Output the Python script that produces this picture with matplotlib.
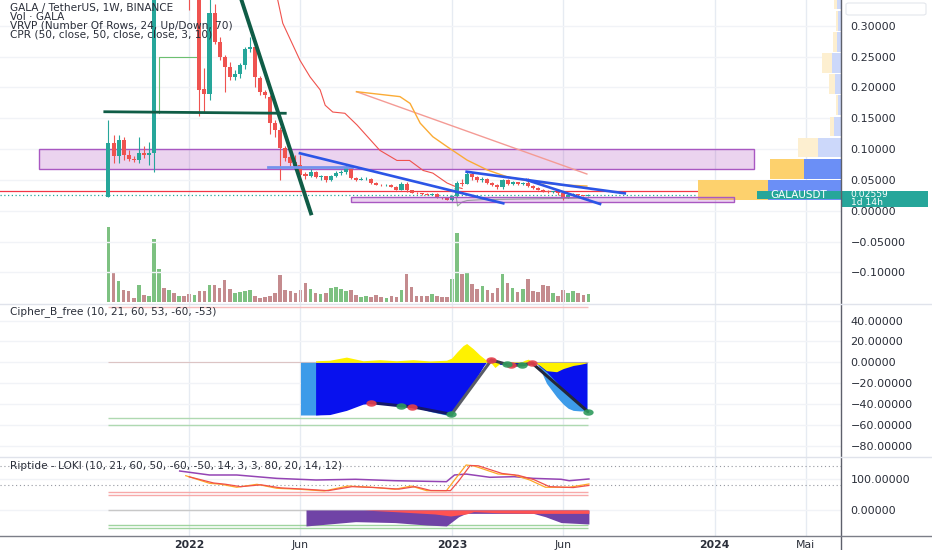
import datetime as dt
import matplotlib

matplotlib.use("Agg")
import matplotlib.pyplot as plt
import matplotlib.dates as mdates
import matplotlib.transforms as mtrans
from matplotlib.lines import Line2D
from matplotlib.patches import Rectangle, FancyBboxPatch
import numpy as np

plt.rcParams["font.family"] = ["DejaVu Sans"]

# ---------------- data ----------------
first_bar = dt.date(2021, 9, 13)  # weekly candles, bar 1

opens = [0.022, 0.109, 0.088, 0.115, 0.090, 0.084, 0.082, 0.094, 0.090, 0.093,
         0.45, 0.62, 0.50, 0.52, 0.45, 0.50, 0.42, 0.36, 0.37, 0.198,
         0.190, 0.320, 0.274, 0.250, 0.233, 0.217, 0.221, 0.236, 0.263, 0.266,
         0.215, 0.193, 0.185, 0.142, 0.131, 0.101, 0.087, 0.079, 0.074, 0.060,
         0.057, 0.063, 0.055, 0.056, 0.050, 0.056, 0.061, 0.062, 0.071, 0.053,
         0.050, 0.051, 0.052, 0.045, 0.042, 0.041, 0.042, 0.039, 0.034, 0.044,
         0.033, 0.029, 0.028, 0.027, 0.026, 0.027, 0.022, 0.021, 0.0175, 0.024,
         0.045, 0.044, 0.060, 0.054, 0.049, 0.052, 0.045, 0.042, 0.038, 0.050,
         0.044, 0.046, 0.043, 0.045, 0.040, 0.037, 0.034, 0.032, 0.030, 0.031,
         0.028, 0.0225, 0.025, 0.0265, 0.025, 0.0245]
highs = [0.147, 0.123, 0.123, 0.120, 0.098, 0.089, 0.119, 0.105, 0.112, 0.62,
         0.84, 0.66, 0.60, 0.56, 0.55, 0.52, 0.42, 0.40, 0.37, 0.231,
         0.345, 0.335, 0.282, 0.253, 0.241, 0.228, 0.240, 0.266, 0.282, 0.268,
         0.218, 0.196, 0.188, 0.147, 0.135, 0.105, 0.095, 0.090, 0.090, 0.063,
         0.067, 0.064, 0.058, 0.057, 0.058, 0.064, 0.066, 0.074, 0.072, 0.055,
         0.054, 0.055, 0.053, 0.046, 0.044, 0.043, 0.043, 0.040, 0.046, 0.046,
         0.034, 0.030, 0.029, 0.028, 0.028, 0.028, 0.023, 0.022, 0.026, 0.048,
         0.052, 0.064, 0.063, 0.056, 0.054, 0.053, 0.047, 0.044, 0.052, 0.052,
         0.048, 0.047, 0.046, 0.053, 0.042, 0.038, 0.036, 0.034, 0.032, 0.032,
         0.029, 0.027, 0.028, 0.027, 0.026, 0.027]
lows = [0.022, 0.077, 0.077, 0.082, 0.080, 0.079, 0.077, 0.085, 0.074, 0.063,
        0.40, 0.42, 0.36, 0.40, 0.40, 0.38, 0.325, 0.345, 0.154, 0.160,
        0.179, 0.270, 0.245, 0.193, 0.212, 0.212, 0.215, 0.230, 0.258, 0.201,
        0.187, 0.182, 0.125, 0.120, 0.050, 0.080, 0.072, 0.068, 0.055, 0.052,
        0.055, 0.053, 0.050, 0.047, 0.048, 0.054, 0.058, 0.060, 0.051, 0.048,
        0.049, 0.049, 0.044, 0.041, 0.040, 0.040, 0.038, 0.033, 0.033, 0.031,
        0.028, 0.027, 0.026, 0.025, 0.025, 0.021, 0.019, 0.017, 0.0165, 0.023,
        0.040, 0.043, 0.050, 0.046, 0.047, 0.043, 0.040, 0.036, 0.036, 0.042,
        0.042, 0.041, 0.042, 0.038, 0.036, 0.033, 0.031, 0.029, 0.028, 0.026,
        0.018, 0.021, 0.024, 0.024, 0.024, 0.024]
closes = [0.109, 0.088, 0.115, 0.090, 0.084, 0.082, 0.094, 0.090, 0.093, 0.45,
          0.62, 0.50, 0.52, 0.45, 0.50, 0.42, 0.36, 0.37, 0.195, 0.190,
          0.320, 0.274, 0.250, 0.233, 0.217, 0.221, 0.236, 0.263, 0.266, 0.217,
          0.193, 0.188, 0.142, 0.131, 0.101, 0.085, 0.077, 0.072, 0.058, 0.057,
          0.063, 0.055, 0.056, 0.050, 0.056, 0.061, 0.063, 0.071, 0.053, 0.050,
          0.052, 0.052, 0.045, 0.042, 0.041, 0.042, 0.039, 0.034, 0.044, 0.033,
          0.029, 0.028, 0.027, 0.026, 0.027, 0.022, 0.021, 0.0175, 0.024, 0.045,
          0.044, 0.060, 0.054, 0.049, 0.052, 0.045, 0.042, 0.038, 0.050, 0.044,
          0.046, 0.043, 0.045, 0.040, 0.037, 0.034, 0.032, 0.030, 0.031, 0.028,
          0.0225, 0.025, 0.0265, 0.025, 0.0245, 0.02559]
volumes = [225, 90, 63, 37, 33, 13, 50, 20, 18, 188, 98, 42, 37, 26, 19, 19, 23, 20, 33, 34,
           51, 52, 42, 65, 38, 27, 29, 32, 36, 18, 13, 16, 19, 27, 81, 37, 32, 26, 37, 57,
           38, 26, 24, 28, 43, 44, 39, 33, 35, 21, 14, 18, 15, 21, 16, 11, 18, 16, 35, 83,
           46, 18, 18, 19, 24, 17, 16, 14, 68, 206, 83, 89, 54, 39, 47, 37, 27, 43, 84, 57,
           41, 31, 38, 68, 33, 30, 50, 48, 26, 19, 37, 26, 33, 28, 22, 24]
last_price = 0.02559

# volume profile, 24 rows from the lowest low to the highest high
vp_low, vp_high = 0.0165, 0.84
vp_up = [73, 37, 23, 6.7, 2.7, 5.3, 8.3, 3.7, 2.7, 3.3, 4, 3, 5, 6, 4, 3, 2.5, 2, 1.5, 1.2, 1, 0.8, 0.6, 0.4]
vp_down = [70, 34, 20, 4, 2.3, 6.3, 10, 4, 2.3, 3.3, 4, 3, 5, 5, 4, 3, 2.5, 2, 1.5, 1.2, 1, 0.8, 0.6, 0.4]
vp_value_area_rows = 2

# drawings on the price pane (bar index, price)
zone_big_idx, zone_big_px = (-12.76, 128.77), (0.0671, 0.0996)
zone_small_idx, zone_small_px = (49.0, 124.87), (0.0149, 0.0217)
support_line = 0.0320
green_h_idx, green_h_px = (0.0, 36.27), (0.1605, 0.158)
green_d_idx, green_d_px = (26.2, 41.2), (0.370, -0.0073)
lblue_idx, lblue_px = (32.6, 49.2), (0.0710, 0.0710)
blue_lines = [((38.9, 79.15), (0.0931, 0.012)),
              ((71.9, 103.2), (0.0632, 0.0282)),
              ((83.8, 98.3), (0.0498, 0.0109))]
ma_idx = [34.0, 34.5, 35.5, 38.9, 40.9, 42.9, 43.9, 45.4, 47.8, 50.2, 54.7, 58.1, 60.6, 63.3, 65.2, 68.0, 70.0, 71.0]
ma_px = [0.361, 0.342, 0.304, 0.244, 0.217, 0.196, 0.171, 0.160, 0.158, 0.139, 0.098, 0.0815, 0.0815,
         0.0652, 0.061, 0.045, 0.038, 0.036]
orange_idx = [50.1, 58.7, 60.7, 62.7, 65.2, 68.0, 72.0, 76.0, 79.9, 85.0, 90.4, 95.7]
orange_px = [0.193, 0.185, 0.174, 0.142, 0.120, 0.104, 0.082, 0.066, 0.055, 0.047, 0.042, 0.040]
salmon_idx, salmon_px = (50.1, 95.7), (0.193, 0.0595)
cpr_top_idx, cpr_top_px = [11.0, 11.0, 18.3], [0.158, 0.249, 0.249]
cpr_low_idx = [69.6, 70.1, 71.0, 72.0, 75.0, 96.0]
cpr_low_px = [0.036, 0.0076, 0.014, 0.0165, 0.018, 0.0205]

# Cipher B
wt1_idx = [39.0, 42.0, 44.8, 48.1, 51.4, 54.7, 58.0, 61.3, 64.6, 67.9, 68.9, 71.2, 73.2, 74.5, 75.8,
           76.8, 78.5, 79.8, 81.1, 82.8, 84.1, 85.7, 86.4, 87.7, 89.7, 91.0, 92.0, 93.0, 94.3, 95.7]
wt1_val = [-50.4, -50.4, -49, -45, -39, -38, -40, -42, -47, -50.5, -51.5, -28, -12, -3, 2,
           3, 0, -1, 0, -1.5, 0.5, 0, -6, -20, -33, -40, -44, -46, -46.5, -46.5]
wt2_idx = [42.0, 44.8, 48.1, 51.4, 54.7, 58.0, 61.3, 64.6, 67.9, 68.9, 71.2, 73.2, 74.5, 75.2, 75.8,
           76.8, 77.5, 78.5, 79.8, 81.1, 82.8, 84.1, 84.9, 85.7, 87.7, 89.7, 91.0, 93.0, 94.3, 95.7]
wt2_val = [-50.4, -50, -46, -40, -38.6, -40.8, -42.4, -45, -48.8, -50, -33, -19.5, -9.6, -4, 0,
           2, 0, -2, -2, -1, -2.5, 0, -0.9, -1, -9, -19, -26, -36, -41, -47]
mfi_idx = [42.0, 44.8, 47.0, 48.1, 50.0, 51.4, 54.7, 58.0, 61.3, 64.6, 67.9, 68.9, 70.0, 71.2, 71.9,
           73.2, 74.5, 75.8, 76.8, 77.5, 78.5, 79.8, 81.1, 82.8, 83.4, 84.1, 84.9, 85.7, 86.4, 87.7,
           89.7, 91.0, 93.0, 94.3, 95.7]
mfi_val = [1.5, 2, 4, 5, 3, 1.5, 2.5, 1.5, 2.5, 1.3, 2, 4, 10, 16, 18,
           13, 7, 2, -1, -5, -1, 0, 0.5, 0.5, 2, 3, 0.5, -1, -3, -8,
           -9, -6, -3, -2, -0.5]
dot_red_idx, dot_red_val = [52.9, 61.0, 76.8, 80.7, 84.9], [-38.6, -42.4, 2.2, -3.0, -0.9]
dot_green_idx, dot_green_val = [59.0, 68.9, 79.8, 82.8, 95.9], [-41.7, -49.8, -1.9, -2.5, -47.2]
div_segments = [([52.9, 59.0, 61.0, 68.9], [-38.6, -41.7, -42.4, -49.8], "#14186a"),
                ([68.9, 76.8], [-49.8, 2.2], "#595c66"),
                ([76.8, 79.8, 80.7, 82.8, 84.9], [2.2, -1.9, -3.0, -2.5, -0.9], "#3a3d4a"),
                ([84.9, 95.9], [-0.9, -47.2], "#23273a")]
cipher_ob, cipher_os = [53], [-53, -60]

# Riptide
rip_purple_idx = [15.1, 21, 26.4, 34.3, 42.1, 49.9, 57.7, 67.9, 69.5, 71.8, 76.5, 81.3, 85.1, 90.6, 92.2, 96.1]
rip_purple_val = [127, 114, 114, 103, 97.7, 100, 95.4, 92.2, 114, 117, 106.5, 108.5, 103, 100, 95.4, 101]
rip_orange_idx = [16.3, 21, 23.3, 26.4, 30.4, 34.3, 38.9, 43.7, 48.4, 53.1, 57.7, 60.9, 64, 67.9, 69.5,
                  71.8, 73.4, 78.1, 81.3, 84.4, 87.5, 92.2, 96.1]
rip_orange_val = [111.7, 87, 83.7, 74, 83.7, 70.7, 67.4, 62, 78, 74, 67.4, 78, 62.9, 62.9, 97.7,
                  146.6, 143.3, 117.3, 114, 97.7, 74, 74, 84.7]
rip_red_idx = [17, 21.8, 24.1, 27.2, 31.2, 35.1, 39.7, 44.5, 49.2, 53.9, 58.5, 61.7, 64.8, 68.7, 70.3,
               72.6, 74.2, 78.9, 82.1, 85.2, 88.3, 93, 96.1]
rip_red_val = [108, 88, 84, 76, 82, 72, 68, 63, 76, 73, 68, 76, 63.5, 63, 94,
               145, 144, 119, 113, 99, 76, 73, 80]
rip_area_purple_idx = [40.1, 49.9, 57.7, 64.0, 67.9, 70.3, 71.8, 85.1, 87.5, 90.6, 96.1]
rip_area_purple_val = [-52, -38, -41, -49, -52, -22, -11, -11, -22, -41, -45.6]
rip_area_red_idx = [51.5, 57.7, 65.6, 68.7, 71.8, 73.3, 78.0, 85.1, 96.1]
rip_area_red_val = [0, -5.4, -13, -19.5, -13, -5.4, -9, -11, -11]
rip_ob, rip_os, rip_dotted = [60, 50], [-50, -60], [144, 82]

grid_dates = [dt.date(2022, 1, 3), dt.date(2022, 6, 6), dt.date(2023, 1, 2),
              dt.date(2023, 6, 5), dt.date(2024, 1, 1), dt.date(2024, 5, 6)]
grid_labels = ["2022", "Jun", "2023", "Jun", "2024", "Mai"]

# ---------------- style ----------------
UP, DOWN = "#26a69a", "#ef5350"
TXT = "#2a2e39"
GRID_V, GRID_H = "#e6ebf2", "#f1f3f7"
W, H = 932, 550
AX_R = 840.7  # right edge of the panes in px
PX_PER_DAY = 0.7217


def bar_x(idx):
    return mdates.date2num(first_bar) + 7 * (np.asarray(idx, dtype=float) - 1)


d0 = mdates.date2num(dt.date(2022, 1, 3))
xmin, xmax = d0 - 189.3 / PX_PER_DAY, d0 + (AX_R - 189.3) / PX_PER_DAY
days_per_px = (xmax - xmin) / AX_R

fig = plt.figure(figsize=(W / 100, H / 100), dpi=100)
fig.patch.set_facecolor("white")


def pane(top, bottom, **kw):
    return fig.add_axes([0, 1 - bottom / H, AX_R / W, (bottom - top) / H], **kw)


ax_v = pane(0, 304)
ax_p = pane(0, 304, sharex=ax_v)
ax_c = pane(304, 457, sharex=ax_v)
ax_r = pane(457, 536, sharex=ax_v)
ax_v.set_zorder(0)
ax_p.set_zorder(1)
ax_p.patch.set_alpha(0)


def fmt(v):
    return f"{v:.5f}".replace("-", "\u2212")


for ax, yl, ticks in ((ax_p, (-0.1513, 0.3417), np.arange(-0.10, 0.301, 0.05)),
                      (ax_c, (-90.6, 55.8), [40, 20, 0, -20, -40, -60, -80]),
                      (ax_r, (-84.7, 172.6), [100, 0])):
    ax.set_xlim(xmin, xmax)
    ax.set_ylim(*yl)
    ax.set_xticks(mdates.date2num(grid_dates))
    ax.set_yticks(ticks)
    ax.set_yticklabels([fmt(t if abs(t) > 1e-9 else 0.0) for t in ticks])
    ax.grid(axis="x", color=GRID_V, lw=1)
    ax.grid(axis="y", color=GRID_H, lw=1)
    ax.set_axisbelow(True)
    ax.yaxis.tick_right()
    ax.tick_params(axis="y", length=0, pad=7, labelsize=8, labelcolor=TXT)
    ax.tick_params(axis="x", length=0, labelbottom=False)
    for s in ax.spines.values():
        s.set_visible(False)

ax_v.set_ylim(-6, 906)
ax_v.axis("off")

# ---------------- price pane ----------------
o, h, l, c = map(np.array, (opens, highs, lows, closes))
xb = bar_x(np.arange(1, len(c) + 1))
col = np.where(c >= o, UP, DOWN)

ax_v.bar(xb, volumes, width=5.0, color=np.where(c >= o, "#7dc181", "#c48b8e"), lw=0)

ax_p.add_patch(Rectangle((bar_x(zone_big_idx[0]), zone_big_px[0]),
                         bar_x(zone_big_idx[1]) - bar_x(zone_big_idx[0]), zone_big_px[1] - zone_big_px[0],
                         facecolor=(156 / 255, 39 / 255, 176 / 255, 0.2), edgecolor="#a958c2", lw=1, zorder=1))
ax_p.axhline(support_line, color="#f23645", lw=0.9, zorder=2)
ax_p.axhline(last_price, color=UP, lw=0.9, ls=(0, (1, 2)), zorder=2)

ax_p.plot(bar_x(ma_idx), ma_px, color="#f0524d", lw=0.8, zorder=2)
ax_p.plot(bar_x(salmon_idx), salmon_px, color="#f49b95", lw=1.0, zorder=2)
ax_p.plot(bar_x(orange_idx), orange_px, color="#fbab35", lw=1.0, zorder=2)
ax_p.plot(bar_x(cpr_top_idx), cpr_top_px, color="#6cc070", lw=0.8, zorder=2)
ax_p.plot(bar_x(cpr_low_idx), cpr_low_px, color="#98b99c", lw=0.8, zorder=2)

ax_p.vlines(xb, l, h, colors=col, lw=0.8, zorder=3)
ax_p.bar(xb, np.maximum(np.abs(c - o), 0.0012), bottom=np.minimum(o, c), width=5.6,
         color=col, lw=0, zorder=3)

# volume profile anchored on the right edge
row_h = (vp_high - vp_low) / len(vp_up)
row_c = vp_low + row_h * (np.arange(len(vp_up)) + 0.5)
w_up = np.array(vp_up) * days_per_px
w_dn = np.array(vp_down) * days_per_px
in_va = np.arange(len(vp_up)) < vp_value_area_rows
ax_p.barh(row_c, w_up, left=xmax - w_up, height=row_h * 0.93,
          color=np.where(in_va, "#6b8ff6", "#ccd8fa"), lw=0, zorder=2)
ax_p.barh(row_c, w_dn, left=xmax - w_up - w_dn, height=row_h * 0.93,
          color=np.where(in_va, "#fdd16d", "#fdefd0"), lw=0, zorder=2)

ax_p.add_patch(Rectangle((bar_x(zone_small_idx[0]), zone_small_px[0]),
                         bar_x(zone_small_idx[1]) - bar_x(zone_small_idx[0]),
                         zone_small_px[1] - zone_small_px[0],
                         facecolor=(156 / 255, 39 / 255, 176 / 255, 0.2), edgecolor="#a958c2", lw=1, zorder=4))

ax_p.plot(bar_x(green_h_idx), green_h_px, color="#0f5c46", lw=2.0, zorder=4, solid_capstyle="butt")
ax_p.plot(bar_x(green_d_idx), green_d_px, color="#0f5c46", lw=2.8, zorder=4, solid_capstyle="butt")
ax_p.plot(bar_x(lblue_idx), lblue_px, color="#7393ec", lw=2.0, zorder=4)
for bi, bp in blue_lines:
    ax_p.plot(bar_x(bi), bp, color="#2b55e6", lw=1.9, zorder=4)

# last price labels
bt = mtrans.blended_transform_factory(ax_p.transAxes, ax_p.transData)
ax_p.add_patch(Rectangle((756.7 / AX_R, 0.0185), 1 - 756.7 / AX_R, 0.0139, transform=bt,
                         facecolor=UP, lw=0, zorder=6, clip_on=False))
ax_p.text((756.7 + AX_R) / 2 / AX_R, 0.0255, "GALAUSDT", transform=bt, ha="center", va="center",
          color="white", fontsize=7.5, zorder=7)
ax_p.add_patch(Rectangle((1.0, 0.0062), 928 / AX_R - 1, 0.0262, transform=bt,
                         facecolor=UP, lw=0, zorder=6, clip_on=False))
ax_p.text(850 / AX_R, 0.0265, f"{last_price:.5f}", transform=bt, ha="left", va="center",
          color="white", fontsize=6.6, zorder=7, clip_on=False)
ax_p.text(851 / AX_R, 0.0128, "1d 14h", transform=bt, ha="left", va="center",
          color="white", fontsize=6.6, zorder=7, clip_on=False)

# ---------------- Cipher B pane ----------------
ax_c.hlines(cipher_ob, bar_x(1), bar_x(96), colors="#f6bcbc", lw=1)
ax_c.hlines(cipher_os, bar_x(1), bar_x(96), colors="#afd9b1", lw=1)
ax_c.hlines([0], bar_x(1), bar_x(96), colors="#dcc4c4", lw=0.8)
ax_c.fill_between(bar_x(wt1_idx), 0, wt1_val, color="#3d9be9", lw=0, zorder=2)
ax_c.fill_between(bar_x(wt2_idx), 0, wt2_val, color="#0811ee", lw=0, zorder=3)
ax_c.fill_between(bar_x(mfi_idx), 0, mfi_val, color="#fff200", lw=0, zorder=4)
for si, sv, sc in div_segments:
    ax_c.plot(bar_x(si), sv, color=sc, lw=2.2, zorder=5, solid_capstyle="round")
t = np.linspace(0, 2 * np.pi, 40)
ellipse = np.column_stack([1.6 * np.cos(t), np.sin(t)])
ax_c.scatter(bar_x(dot_red_idx), dot_red_val, marker=ellipse, s=55, color="#e5404c", alpha=0.9, lw=0, zorder=6)
ax_c.scatter(bar_x(dot_green_idx), dot_green_val, marker=ellipse, s=55, color="#2e9a5c", alpha=0.9, lw=0, zorder=6)

# ---------------- Riptide pane ----------------
for v in rip_dotted:
    ax_r.axhline(v, color="#9598a1", lw=0.8, ls=(0, (1, 2.5)))
ax_r.hlines(rip_ob, bar_x(1), bar_x(96), colors="#f7a9a9", lw=1)
ax_r.hlines(rip_os, bar_x(1), bar_x(96), colors="#9fd49f", lw=1)
ax_r.hlines([0], bar_x(1), bar_x(96), colors="#c8c8c8", lw=1)
ax_r.fill_between(bar_x(rip_area_purple_idx), 0, rip_area_purple_val, color="#7043a6", lw=0, zorder=2)
ax_r.fill_between(bar_x(rip_area_red_idx), 0, rip_area_red_val, color="#ff5252", lw=0, zorder=3)
ax_r.plot(bar_x(rip_purple_idx), rip_purple_val, color="#9444b4", lw=1.1, zorder=4)
ax_r.plot(bar_x(rip_orange_idx), rip_orange_val, color="#ffa726", lw=0.9, zorder=4)
ax_r.plot(bar_x(rip_red_idx), rip_red_val, color="#f0504a", lw=0.9, zorder=4)

# time axis
ax_r.tick_params(axis="x", labelbottom=True, pad=3, labelsize=7.8, labelcolor=TXT)
ax_r.set_xticklabels(grid_labels)
for lab in ax_r.get_xticklabels():
    if lab.get_text().isdigit():
        lab.set_fontweight("bold")

# ---------------- frame and legends ----------------
def fx(x):
    return x / W


def fy(y):
    return 1 - y / H


fig.add_artist(Line2D([fx(AX_R), fx(AX_R)], [0, 1], color="#5d606b", lw=1))
fig.add_artist(Line2D([0, 1], [fy(304), fy(304)], color="#e0e3eb", lw=1))
fig.add_artist(Line2D([0, 1], [fy(457), fy(457)], color="#e0e3eb", lw=1))
fig.add_artist(Line2D([0, 1], [fy(536), fy(536)], color="#7b7e88", lw=1))
fig.add_artist(FancyBboxPatch((fx(846), fy(15)), fx(80), 12 / H, boxstyle="round,pad=0,rounding_size=0.003",
                              transform=fig.transFigure, facecolor="white", edgecolor="#e3e6ec", lw=0.8))

legend_lines = ["GALA / TetherUS, 1W, BINANCE", "Vol \u00b7 GALA",
                "VRVP (Number Of Rows, 24, Up/Down, 70)", "CPR (50, close, 50, close, close, 3, 10)"]
for k, s in enumerate(legend_lines):
    fig.text(fx(10), fy(8.5 + 8.7 * k), s, fontsize=7.6, color=TXT, va="center", ha="left", zorder=10)
fig.text(fx(10), fy(312), "Cipher_B_free (10, 21, 60, 53, -60, -53)", fontsize=7.6, color=TXT, va="center")
fig.text(fx(10), fy(466), "Riptide - LOKI (10, 21, 60, 50, -60, -50, 14, 3, 3, 80, 20, 14, 12)",
         fontsize=7.6, color=TXT, va="center")

fig.savefig("out.png", dpi=100, facecolor="white")
